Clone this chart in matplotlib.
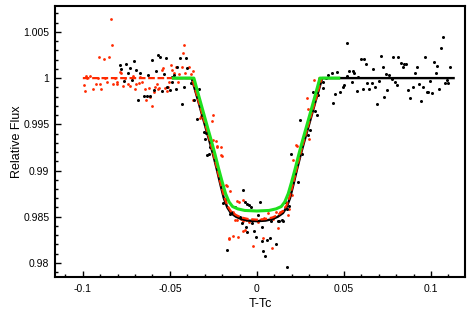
import matplotlib
matplotlib.use("Agg")
import matplotlib.pyplot as plt
from matplotlib.ticker import MultipleLocator, FuncFormatter

plt.rcParams['font.family'] = ['Liberation Sans', 'DejaVu Sans']

black_x = [-0.0787, -0.0778, -0.0753, -0.074, -0.073, -0.0764, -0.072, -0.0707, -0.0695, -0.0672,
           -0.0682, -0.0649, -0.0634, -0.0615, -0.0626, -0.0603, -0.0592, -0.058, -0.0569, -0.0557,
           -0.0546, -0.0534, -0.0523, -0.0515, -0.05, -0.049, -0.0485, -0.0477, -0.0466, -0.0458,
           -0.0443, -0.0433, -0.042, -0.0408, -0.0404, -0.0381, -0.0362, -0.0347, -0.0331, -0.0305,
           -0.0299, -0.0293, -0.0285, -0.0278, -0.027,
           -0.0197, -0.0178, -0.0174, -0.0155, -0.0151, -0.0126, -0.0098, -0.0088, -0.0082, -0.0069,
           -0.0063, -0.0059, -0.0056, -0.0044, -0.0036, -0.003, -0.0017, -0.0006, 0.0008, 0.0015,
           0.0027, 0.0027, 0.0036, 0.0046, 0.0056, 0.0075, 0.008, 0.0109, 0.0123, 0.0128, 0.0142,
           0.0151, 0.0161, 0.0171, 0.0174, 0.0186, 0.0194, 0.0238,
           0.0247, 0.0257, 0.0295, 0.0305, 0.0324, 0.0333, 0.0343, 0.0352, 0.0381, 0.0381, 0.0395,
           0.041, 0.0429, 0.0439, 0.0448, 0.0458, 0.0477, 0.0492, 0.05, 0.0515, 0.0519, 0.053,
           0.0544, 0.055, 0.0557, 0.0573, 0.0582, 0.0596, 0.0607, 0.0615, 0.0626, 0.0634, 0.0646,
           0.0659, 0.0669, 0.0678, 0.0688, 0.0703, 0.0711, 0.0722, 0.073, 0.0741, 0.0749, 0.076,
           0.0774, 0.0784, 0.0793, 0.0803, 0.0812, 0.0826, 0.0837, 0.0847, 0.0856, 0.087, 0.0879,
           0.0895, 0.0908, 0.0921, 0.0933, 0.0941, 0.0952, 0.0966, 0.0975, 0.0985, 0.0994, 0.1004,
           0.1017, 0.1029, 0.1036, 0.1048, 0.1056, 0.1067, 0.108, 0.1094, 0.11, 0.1109]
black_y = [1.00141, 1.00095, 1.00149, 1.00051, 1.00105, 0.99967, 0.99978, 1.00188, 1.00087, 1.00058,
           0.99761, 0.99804, 0.99804, 0.99804, 1.00033, 1.00196, 0.9987, 1.00076, 1.00247, 1.00232,
           0.99859, 1.00043, 1.00221, 0.99899, 0.9987, 0.9996, 1.00014, 1.00033, 0.9988, 1.00123,
           1.00214, 0.99725, 0.99906, 1.00214, 1.00105, 0.99942, 0.99761, 0.99562, 0.99877, 0.99417,
           0.99344, 0.99406, 0.99163, 0.99174, 0.99253,
           0.98645, 0.98692, 0.98138, 0.98529, 0.98547, 0.98609, 0.98492, 0.98427, 0.9879, 0.98656,
           0.98391, 0.98331, 0.98638, 0.9863, 0.98609, 0.98427, 0.98348, 0.98283, 0.98522, 0.98656,
           0.98391, 0.98239, 0.9813, 0.98076, 0.98247, 0.98275, 0.98457, 0.98203, 0.98449, 0.98455, 0.9846,
           0.98457, 0.98656, 0.98584, 0.97957, 0.9862, 0.99181, 0.98873,
           0.99551, 0.99181, 0.9938, 0.99435, 0.99851, 0.99645, 0.99598, 0.99815, 0.99888, 0.9996, 1.0,
           1.00033, 1.00058, 0.99732, 0.99826, 1.00069, 0.99851, 0.99899, 0.9992, 1.00022, 1.00384, 1.00076,
           0.9996, 1.00079, 1.00058, 0.99862, 1.00008, 1.00203, 0.99877, 1.00203, 1.00152, 0.99942, 0.99877,
           0.99942, 1.00098, 0.99899, 0.99725, 0.99971, 1.00239, 1.00123, 0.99797, 1.00043, 0.9987, 1.00033,
           0.99986, 1.00232, 0.9996, 0.99924, 1.00225, 1.00167, 1.00123, 1.00152, 1.00152, 0.9987, 0.9979,
           0.99899, 1.00058, 1.00123, 0.99935, 0.99753, 0.99899, 1.00232, 0.99851, 0.99846, 0.99971, 0.9984,
           1.00177, 1.00058, 1.0013, 0.99877, 1.0033, 1.00442, 0.99942, 0.99978, 0.9995, 1.00116]

red_x = [-0.0994, -0.0989, -0.0983, -0.0975, -0.0956, -0.0944, -0.0925, -0.0915, -0.0906, -0.0899,
         -0.0897, -0.0877, -0.087, -0.086, -0.0849, -0.0841, -0.0835, -0.0826, -0.0815, -0.0806,
         -0.0801, -0.0784, -0.0778, -0.0772, -0.076, -0.074, -0.073, -0.0712, -0.0701, -0.0692,
         -0.0676, -0.067, -0.0663, -0.0644, -0.0638, -0.0619, -0.0615, -0.06, -0.0592, -0.0586,
         -0.0573, -0.0567, -0.056, -0.0545, -0.0538, -0.0529, -0.0519, -0.051, -0.0505, -0.0494,
         -0.049, -0.0477, -0.0466, -0.0452, -0.0445, -0.0433, -0.0427, -0.042, -0.0414, -0.0389,
         -0.0381, -0.037, -0.0366,
         -0.0328, -0.0324, -0.0257, -0.0255, -0.0251, -0.0236, -0.0232, -0.0228, -0.0209, -0.0209,
         -0.0203, -0.0178, -0.017, -0.0163, -0.0159, -0.0155, -0.0136, -0.0136, -0.0126, -0.0117,
         -0.0117, -0.0107, -0.0102, -0.009, -0.0082, -0.0079, -0.0079, -0.0069, -0.006, -0.0045,
         -0.003, -0.0021, -0.0015, 0.0005, 0.002, 0.0033, 0.004, 0.0065, 0.0084, 0.0095, 0.0109,
         0.0123, 0.013, 0.0145, 0.0161, 0.018, 0.0186, 0.02, 0.0209, 0.021, 0.0224, 0.0228,
         0.0285, 0.0295, 0.0301, 0.033, 0.0358]
red_y = [0.99924, 0.99859, 1.00025, 1.0, 1.00025, 0.99877, 0.99935, 1.0, 1.00225, 0.99935,
         0.99877, 1.00203, 1.0, 0.9996, 1.00225, 1.00638, 1.00359, 0.99935, 1.0, 0.9996,
         0.99935, 1.00069, 1.00058, 0.99913, 1.0, 0.99935, 0.99913, 1.0002, 0.99884, 0.99935,
         0.99942, 1.0001, 0.9996, 0.99884, 0.99768, 0.99895, 0.99797, 0.99696, 0.99848, 0.99899,
         0.99935, 0.99877, 0.9989, 1.00088, 1.00105, 0.99888, 0.99862, 0.999, 0.9996, 1.00141,
         1.00088, 1.00058, 1.00123, 0.9996, 1.0004, 1.00123, 1.00275, 1.00359, 1.00058, 1.00123,
         1.00043, 1.00079, 0.99761,
         0.99573, 0.99587, 0.99536, 0.99598, 0.99326, 0.99318, 0.99261, 0.99253, 0.99253, 0.99163,
         0.99152, 0.98848, 0.9883, 0.98264, 0.98268, 0.98783, 0.98547, 0.98293, 0.98464, 0.98674,
         0.98464, 0.98283, 0.98656, 0.9848, 0.98682, 0.98457, 0.98348, 0.98355, 0.9846, 0.9844,
         0.9847, 0.98185, 0.9846, 0.9844, 0.9847, 0.98275, 0.9849, 0.98536, 0.98166, 0.9848, 0.98547,
         0.98377, 0.9855, 0.9856, 0.98601, 0.98522, 0.98584, 0.9873, 0.99109, 0.989, 0.99272, 0.99261,
         0.9979, 0.9967, 0.99344, 0.99978, 0.99997]

# ---- model curves ----
black_model_x = [-0.048, -0.0375, -0.034, -0.030, -0.027, -0.025, -0.023, -0.021, -0.019, -0.017,
                 -0.015, -0.012, -0.009, -0.005, 0.0, 0.005, 0.009, 0.012, 0.015, 0.017, 0.019,
                 0.021, 0.023, 0.025, 0.027, 0.030, 0.034, 0.0375, 0.113]
black_model_y = [1.0, 1.0, 0.9977, 0.9950, 0.9930, 0.9916, 0.9901, 0.9885, 0.9870, 0.9860,
                 0.9854, 0.9850, 0.98475, 0.98458, 0.98452, 0.98458, 0.98475, 0.9850, 0.9854, 0.9860, 0.9870,
                 0.9885, 0.9901, 0.9916, 0.9930, 0.9950, 0.9977, 1.0, 1.0]

red_model_x = [-0.1, -0.0372, -0.034, -0.030, -0.027, -0.025, -0.023, -0.021, -0.019, -0.017,
               -0.015, -0.012, -0.009, -0.005, 0.0, 0.005, 0.009, 0.012, 0.015, 0.017, 0.019,
               0.021, 0.023, 0.025, 0.027, 0.030, 0.034, 0.0372]
red_model_y = [1.0, 1.0, 0.9978, 0.9952, 0.9932, 0.9918, 0.9903, 0.9887, 0.9873, 0.9862,
               0.9856, 0.98518, 0.98492, 0.98475, 0.98468, 0.98475, 0.98492, 0.98518, 0.9856, 0.9862, 0.9873,
               0.9887, 0.9903, 0.9918, 0.9932, 0.9952, 0.9978, 1.0]

green_model_x = [-0.048, -0.0362, -0.033, -0.029, -0.026, -0.024, -0.022, -0.020, -0.018, -0.016,
                 -0.014, -0.011, -0.007, 0.0, 0.007, 0.011, 0.014, 0.016, 0.018, 0.020, 0.022,
                 0.024, 0.026, 0.029, 0.033, 0.0362, 0.047]
green_model_y = [1.0, 1.0, 0.9978, 0.9951, 0.9931, 0.9917, 0.9902, 0.9888, 0.9875, 0.9866,
                 0.9861, 0.98585, 0.98568, 0.98562, 0.98568, 0.98585, 0.9861, 0.9866, 0.9875, 0.9888, 0.9902,
                 0.9917, 0.9931, 0.9951, 0.9978, 1.0, 1.0]

x_ticks = [-0.1, -0.05, 0, 0.05, 0.1]
y_ticks = [0.98, 0.985, 0.99, 0.995, 1.0, 1.005]

RED = '#ff2a00'
GREEN = '#1ee01e'

fig = plt.figure(figsize=(4.72, 3.34), dpi=100)
ax = fig.add_axes([0.1165, 0.1707, 0.8685, 0.8113])

ax.plot(red_x, red_y, 'o', color=RED, ms=2.0, mew=0, zorder=2)
ax.plot(black_x, black_y, 'o', color='black', ms=2.2, mew=0, zorder=3)
ax.plot(black_model_x, black_model_y, '-', color='black', lw=1.7, zorder=4)
ax.plot(red_model_x, red_model_y, '--', color=RED, lw=1.6, dashes=(3, 1.2), zorder=5)
ax.plot(green_model_x, green_model_y, '-', color=GREEN, lw=2.2, zorder=6)

ax.set_xlim(-0.116, 0.1195)
ax.set_ylim(0.97848, 1.0078)
ax.set_xticks(x_ticks)
ax.set_yticks(y_ticks)
ax.xaxis.set_minor_locator(MultipleLocator(0.01))
ax.yaxis.set_minor_locator(MultipleLocator(0.001))
fmt = FuncFormatter(lambda v, p: ('%g' % round(v, 6)))
ax.xaxis.set_major_formatter(fmt)
ax.yaxis.set_major_formatter(fmt)

ax.tick_params(which='both', direction='in', top=False, right=False, width=1.0, labelsize=7.5)
ax.tick_params(which='major', length=4.5)
ax.tick_params(which='minor', length=2.3)
ax.tick_params(axis='x', pad=5)
ax.tick_params(axis='y', pad=4)
for s in ax.spines.values():
    s.set_linewidth(1.5)

ax.set_xlabel('T-Tc', fontsize=9, labelpad=3)
ax.set_ylabel('Relative Flux', fontsize=9, labelpad=0.5)

fig.savefig('out.png', dpi=100)
